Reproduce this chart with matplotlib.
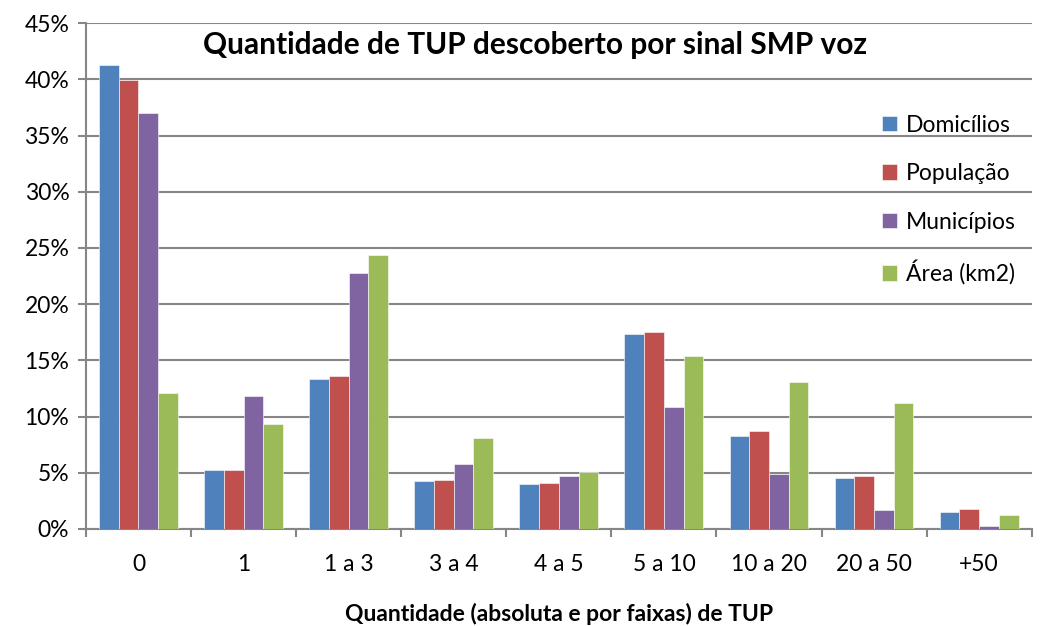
import numpy as np
from matplotlib import pyplot as plt
from matplotlib.ticker import PercentFormatter

plt.rcParams['font.family'] = ['Lato', 'DejaVu Sans']

categorias = ['0', '1', '1 a 3', '3 a 4', '4 a 5', '5 a 10', '10 a 20', '20 a 50', '+50']
domicilios = [41.3, 5.25, 13.3, 4.3, 4.0, 17.35, 8.3, 4.5, 1.5]
populacao = [39.9, 5.25, 13.6, 4.4, 4.1, 17.5, 8.7, 4.7, 1.8]
municipios = [37.0, 11.8, 22.8, 5.8, 4.7, 10.85, 4.9, 1.7, 0.25]
area = [12.1, 9.3, 24.4, 8.1, 5.1, 15.4, 13.1, 11.2, 1.2]

series = [('Domicílios', domicilios, '#4F81BD'),
          ('População', populacao, '#C0504D'),
          ('Municípios', municipios, '#8064A2'),
          ('Área (km2)', area, '#9BBB59')]

fig = plt.figure(figsize=(10.52, 6.26), dpi=100)
ax = fig.add_axes([0.0817, 0.155, 0.899, 0.808])

x = np.arange(len(categorias))
w = 0.75 / 4
for i, (nome, vals, cor) in enumerate(series):
    ax.bar(x + (i - 1.5) * w, vals, width=w, color=cor, label=nome, zorder=3,
           edgecolor='white', linewidth=0.4)

ax.set_xlim(-0.5, len(categorias) - 0.5)
ax.set_ylim(0, 45)
ax.set_yticks(np.arange(0, 46, 5))
ax.yaxis.set_major_formatter(PercentFormatter(decimals=0))
ax.grid(axis='y', color='#868686', linewidth=1.5, zorder=0)

ax.set_xticks(x)
ax.set_xticklabels(categorias)
ax.set_xticks(np.arange(-0.5, len(categorias), 1), minor=True)
ax.tick_params(axis='x', which='major', length=0, pad=18, labelsize=16.5)
ax.tick_params(axis='x', which='minor', length=6, width=1.5, color='#868686')
ax.tick_params(axis='y', length=6, width=1.5, color='#868686', labelsize=16.5, pad=6)

for s in ['top', 'right']:
    ax.spines[s].set_visible(False)
for s in ['left', 'bottom']:
    ax.spines[s].set_color('#868686')
    ax.spines[s].set_linewidth(1.5)

ax.set_xlabel('Quantidade (absoluta e por faixas) de TUP', fontsize=16.5,
              fontweight='bold', labelpad=20)
ax.text(0.475, 0.985, 'Quantidade de TUP descoberto por sinal SMP voz',
        transform=ax.transAxes, ha='center', va='top', fontsize=21.5,
        fontweight='bold')

leg = ax.legend(loc='upper right', bbox_to_anchor=(1.005, 0.86), frameon=False,
                fontsize=16.5, handlelength=0.65, handleheight=0.65,
                labelspacing=1.2, handletextpad=0.4)

fig.savefig('out.png', dpi=100)
